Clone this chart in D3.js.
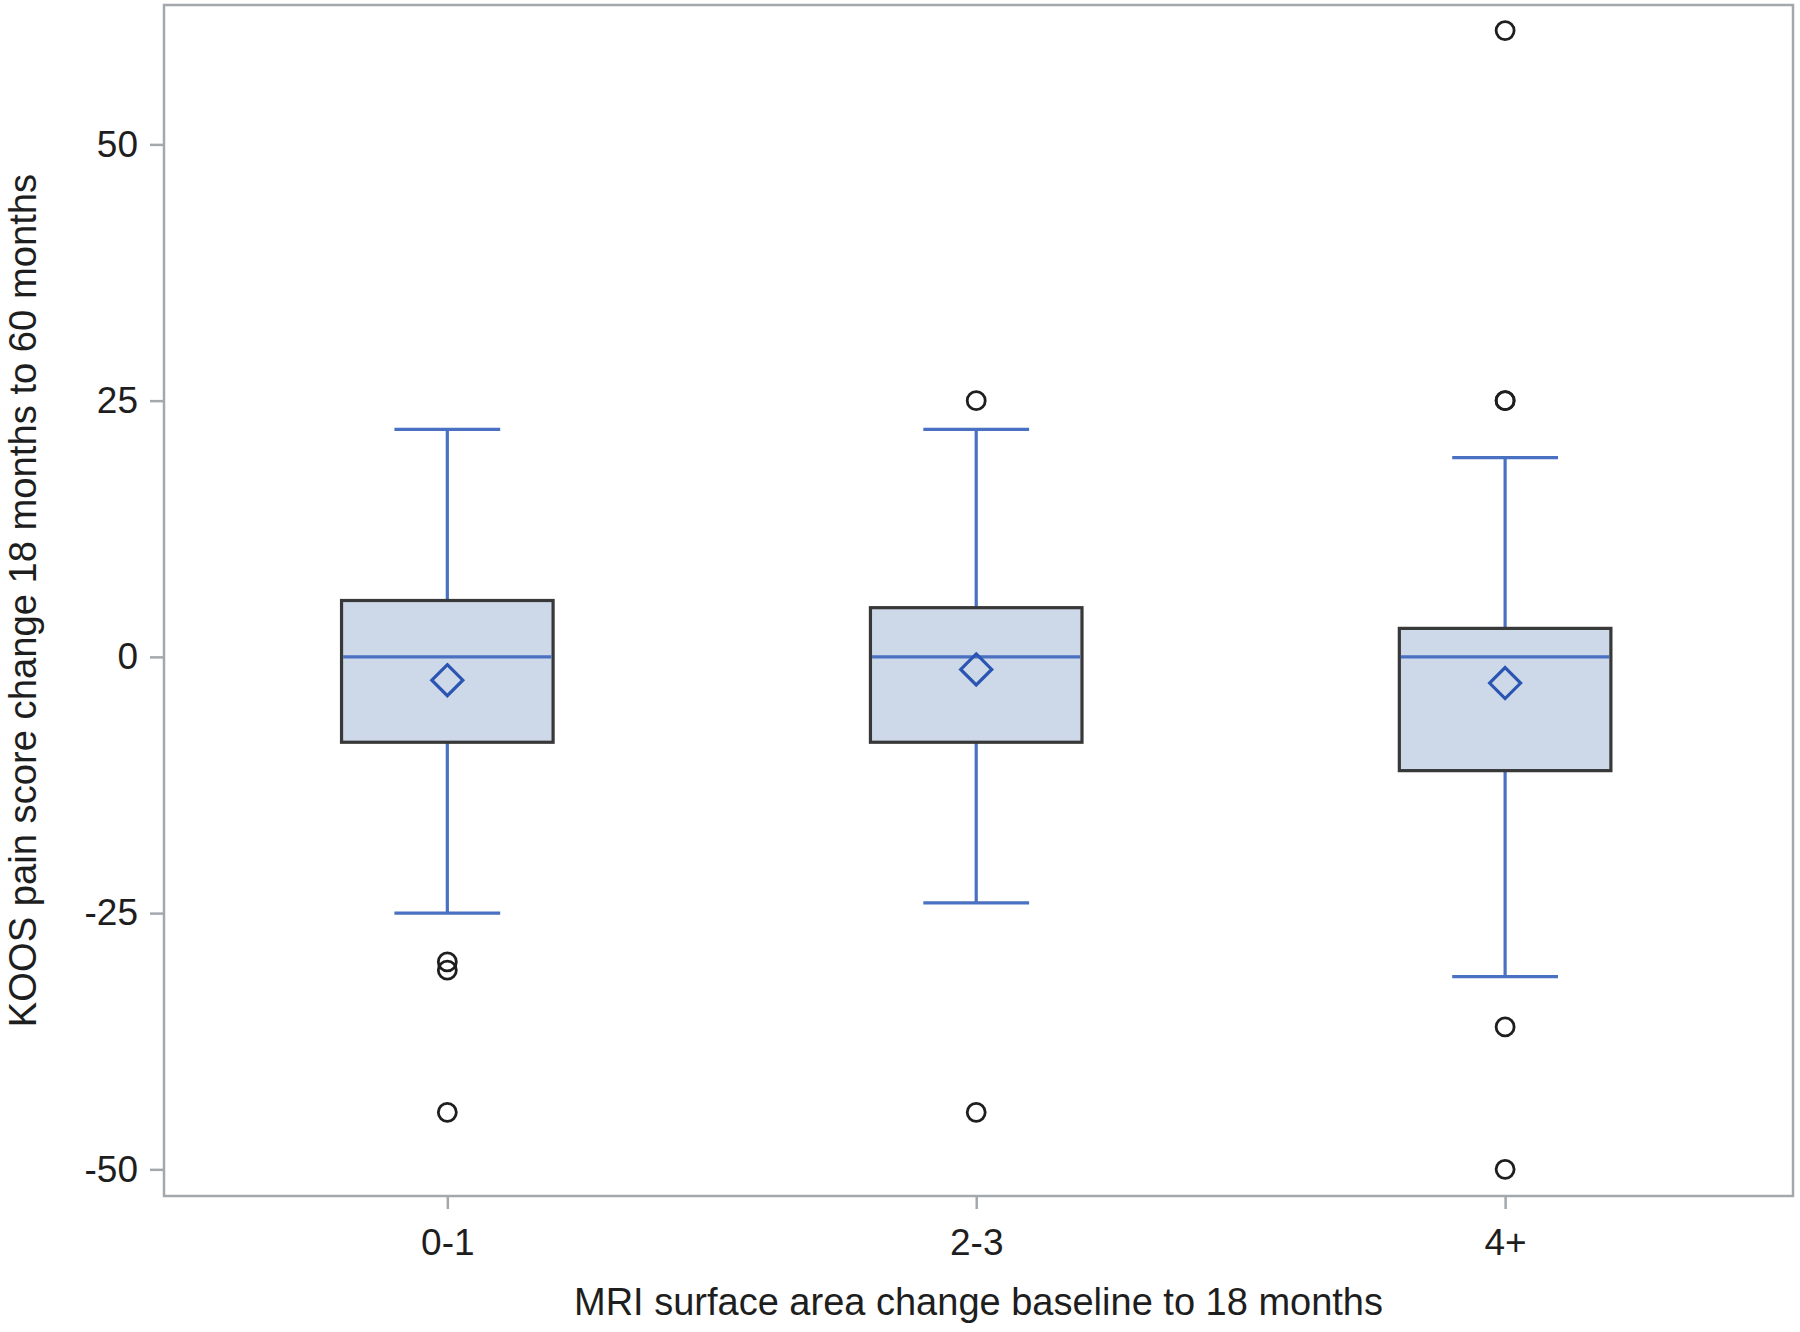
<!DOCTYPE html>
<html><head><meta charset="utf-8">
<script src="https://cdn.jsdelivr.net/npm/d3@7"></script>
<style>html,body{margin:0;padding:0;background:#fff;}svg{display:block;font-family:"Liberation Sans",Arial,sans-serif;}</style>
</head><body>
<svg id="c" width="1800" height="1332"></svg>
<script>
const categories = ["0-1", "2-3", "4+"];
const q1Values = [-8.33, -8.33, -11.1];
const medianValues = [0, 0, 0];
const q3Values = [5.5, 4.8, 2.78];
const whiskerLow = [-25, -24, -31.2];
const whiskerHigh = [22.2, 22.2, 19.44];
const meanValues = [-2.27, -1.23, -2.55];
const outliers = [
  [-29.76, -30.57, -44.44],
  [25, -44.44],
  [61.1, 25, 25, -36.1, -50]
];
const yTicks = [-50, -25, 0, 25, 50];
const xTitle = "MRI surface area change baseline to 18 months";
const yTitle = "KOOS pain score change 18 months to 60 months";

const L = 164, R = 1793, T = 5, B = 1196;
const svg = d3.select("#c");
const x = d3.scalePoint().domain(categories).range([L, R]).padding(0.54).align(0.496);
const y = d3.scaleLinear().domain([-52.6, 63.6]).range([B, T]);
const boxW = x.step() * 0.4;
const capW = boxW / 2;

const frameColor = "#a3a8ad";
const blue = "#4a70c2";
const diamondBlue = "#2b55b3";

// axes
const yAxis = svg.append("g").attr("transform", `translate(${L},0)`)
  .call(d3.axisLeft(y).tickValues(yTicks).tickSize(14).tickPadding(12).tickFormat(d => String(d)));
const xAxis = svg.append("g").attr("transform", `translate(0,${B})`)
  .call(d3.axisBottom(x).tickSize(13).tickPadding(20));
[yAxis, xAxis].forEach(a => {
  a.select(".domain").remove();
  a.selectAll(".tick line").attr("stroke", frameColor).attr("stroke-width", 2.5);
  a.selectAll(".tick text").attr("fill", "#1e1e1e").style("font-size", "37px").style("font-family", '"Liberation Sans",Arial,sans-serif');
});

// frame
svg.append("rect").attr("x", L).attr("y", T).attr("width", R - L).attr("height", B - T)
  .attr("fill", "none").attr("stroke", frameColor).attr("stroke-width", 2.5);

const g = svg.append("g");
categories.forEach((c, i) => {
  const cx = x(c);
  const sw = 3.2;
  g.append("line").attr("x1", cx).attr("x2", cx).attr("y1", y(q3Values[i])).attr("y2", y(whiskerHigh[i]))
    .attr("stroke", blue).attr("stroke-width", sw);
  g.append("line").attr("x1", cx).attr("x2", cx).attr("y1", y(q1Values[i])).attr("y2", y(whiskerLow[i]))
    .attr("stroke", blue).attr("stroke-width", sw);
  g.append("line").attr("x1", cx - capW / 2).attr("x2", cx + capW / 2).attr("y1", y(whiskerHigh[i])).attr("y2", y(whiskerHigh[i]))
    .attr("stroke", blue).attr("stroke-width", sw);
  g.append("line").attr("x1", cx - capW / 2).attr("x2", cx + capW / 2).attr("y1", y(whiskerLow[i])).attr("y2", y(whiskerLow[i]))
    .attr("stroke", blue).attr("stroke-width", sw);
  g.append("rect").attr("x", cx - boxW / 2).attr("width", boxW)
    .attr("y", y(q3Values[i])).attr("height", y(q1Values[i]) - y(q3Values[i]))
    .attr("fill", "#cdd8e8").attr("stroke", "#383838").attr("stroke-width", 3.2);
  g.append("line").attr("x1", cx - boxW / 2 + 1.6).attr("x2", cx + boxW / 2 - 1.6).attr("y1", y(medianValues[i])).attr("y2", y(medianValues[i]))
    .attr("stroke", blue).attr("stroke-width", sw);
  const my = y(meanValues[i]), d = 15.5;
  g.append("path").attr("d", `M${cx},${my - d}L${cx + d},${my}L${cx},${my + d}L${cx - d},${my}Z`)
    .attr("fill", "none").attr("stroke", diamondBlue).attr("stroke-width", 3.2);
  outliers[i].forEach(v => {
    g.append("circle").attr("cx", cx).attr("cy", y(v)).attr("r", 9)
      .attr("fill", "none").attr("stroke", "#1e1e1e").attr("stroke-width", 2.8);
  });
});

// titles
svg.append("text").attr("x", (L + R) / 2).attr("y", 1315).attr("text-anchor", "middle")
  .attr("fill", "#1e1e1e").style("font-size", "38px").text(xTitle);
svg.append("text").attr("transform", `translate(36,${(T + B) / 2}) rotate(-90)`).attr("text-anchor", "middle")
  .attr("fill", "#1e1e1e").style("font-size", "38.2px").text(yTitle);
</script>
</body></html>
